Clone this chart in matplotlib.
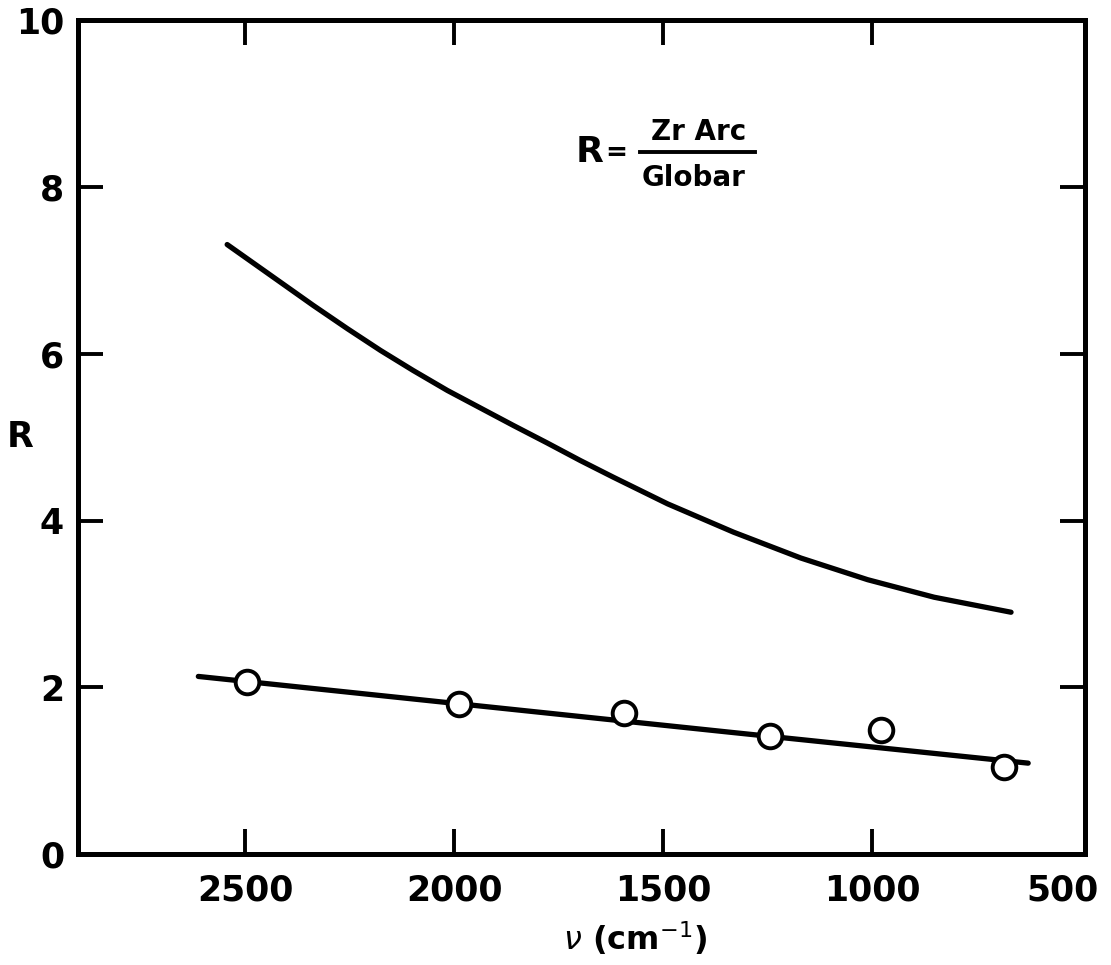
import matplotlib
matplotlib.use("Agg")
import matplotlib.pyplot as plt
from matplotlib.transforms import ScaledTranslation

# Upper curve (smooth, no markers)
upper_x = [2543, 2495, 2416, 2337, 2255, 2176, 2098, 2016, 1937, 1858,
           1777, 1698, 1619, 1489, 1331, 1170, 1010, 851, 667]
upper_r = [7.31, 7.14, 6.86, 6.58, 6.30, 6.04, 5.80, 5.56, 5.35, 5.14,
           4.93, 4.72, 4.52, 4.20, 3.86, 3.55, 3.29, 3.08, 2.90]

# Lower fitted line
lower_x = [2612, 1338, 626]
lower_r = [2.13, 1.46, 1.09]

# Measured points (open circles)
pts_x = [2495, 1987, 1594, 1244, 979, 684]
pts_r = [2.06, 1.80, 1.69, 1.41, 1.49, 1.04]

xticks = [2500, 2000, 1500, 1000, 500]
xticklabels = ["2500", "2000", "1500", "1000", "500"]
yticks = [0, 2, 4, 6, 8, 10]
yticklabels = ["0", "2", "4", "6", "8", "10"]

plt.rcParams['font.family'] = ['DejaVu Sans']
plt.rcParams['mathtext.fontset'] = 'dejavusans'

fig = plt.figure(figsize=(11.11, 9.65), dpi=100)
ax = fig.add_axes([0.0702, 0.115, 0.9064, 0.864])

ax.plot(upper_x, upper_r, color='black', lw=3.8, solid_capstyle='round', solid_joinstyle='round')
ax.plot(lower_x, lower_r, color='black', lw=3.8, solid_capstyle='round', solid_joinstyle='round')
ax.plot(pts_x, pts_r, linestyle='none', marker='o', ms=17, mfc='white', mec='black', mew=2.8)

ax.set_xlim(2900, 490)
ax.set_ylim(0, 10)

ax.set_xticks(xticks)
ax.set_xticklabels(xticklabels, fontsize=25, fontweight='bold')
ax.set_yticks(yticks)
ax.set_yticklabels(yticklabels, fontsize=25, fontweight='bold')

ax.tick_params(axis='both', direction='in', length=18, width=2.8, top=True, right=True)
ax.tick_params(axis='x', pad=14)
ax.tick_params(axis='y', pad=10)

# no tick marks at the frame corners (500 on x, 0 and 10 on y)
xt = ax.xaxis.get_major_ticks()
xt[-1].tick1line.set_visible(False)
xt[-1].tick2line.set_visible(False)
yt = ax.yaxis.get_major_ticks()
for t in (yt[0], yt[-1]):
    t.tick1line.set_visible(False)
    t.tick2line.set_visible(False)

# pull the "500" label inside the figure like the reference
lab500 = ax.get_xticklabels()[-1]
lab500.set_transform(lab500.get_transform() + ScaledTranslation(-0.18, 0, fig.dpi_scale_trans))

for s in ax.spines.values():
    s.set_linewidth(3.6)

ax.set_ylabel('R', fontsize=25, fontweight='bold', rotation=0, va='center')
ax.yaxis.set_label_coords(-0.057, 0.5)
ax.set_xlabel(r'$\nu$ (cm$^{-1}$)', fontsize=23, fontweight='bold')
ax.xaxis.set_label_coords(0.553, -0.078)

# Annotation R = Zr Arc / Globar
fig.text(590 / 1111, 1 - 152 / 965, 'R', fontsize=26, fontweight='bold', ha='center', va='center')
fig.text(616 / 1111, 1 - 153 / 965, '=', fontsize=19, fontweight='bold', ha='center', va='center')
fig.text(699 / 1111, 1 - 132 / 965, 'Zr Arc', fontsize=20, fontweight='bold', ha='center', va='center')
fig.text(694 / 1111, 1 - 178 / 965, 'Globar', fontsize=20, fontweight='bold', ha='center', va='center')
fig.add_artist(plt.Line2D([640 / 1111, 755 / 1111], [1 - 152 / 965, 1 - 152 / 965],
                          color='black', lw=2.8, transform=fig.transFigure))

fig.savefig('out.png', dpi=100, facecolor='white')
